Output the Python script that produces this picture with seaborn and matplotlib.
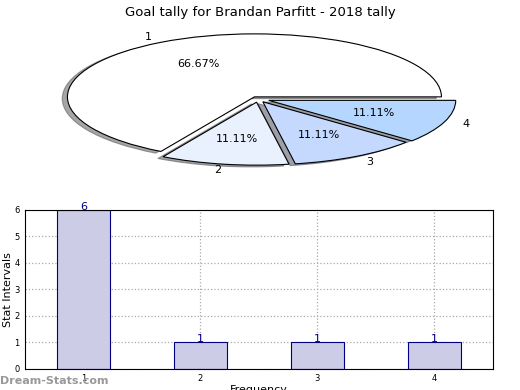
import numpy as np
import pandas as pd
import matplotlib
matplotlib.use('Agg')
import matplotlib.pyplot as plt
import seaborn as sns

# data
categories = ['1', '2', '3', '4']
counts = [6, 1, 1, 1]
pie_colors = ['#ffffff', '#eaf1fe', '#c5d9fe', '#b4d6ff']
title = 'Goal tally for Brandan Parfitt - 2018 tally'

sns.set_theme(style='white')
plt.rcParams['font.family'] = ['DejaVu Sans']
plt.rcParams['text.color'] = 'black'
plt.rcParams['axes.labelcolor'] = 'black'
plt.rcParams['xtick.color'] = 'black'
plt.rcParams['ytick.color'] = 'black'

fig = plt.figure(figsize=(5.2, 3.9), dpi=100)

# pie (squashed into an ellipse)
ax_pie = fig.add_axes([0.029, 0.536, 0.935, 0.42])
ax_pie.pie(counts, labels=categories, colors=pie_colors, autopct='%.2f%%',
           explode=[0.04, 0.05, 0.05, 0.06], shadow=True, startangle=0,
           wedgeprops=dict(edgecolor='black', linewidth=0.8),
           textprops=dict(fontsize=8, color='black'))
ax_pie.set_aspect('auto')
ax_pie.set_xlim(-1.3, 1.3)
ax_pie.set_ylim(-1.3, 1.3)
ax_pie.axis('off')
fig.text(0.5, 0.985, title, ha='center', va='top', fontsize=9.5)

# bars
df = pd.DataFrame({'cat': categories, 'count': counts})
ax = fig.add_axes([0.048, 0.054, 0.9, 0.408])
sns.barplot(data=df, x='cat', y='count', color='#cccce6', width=0.45,
            edgecolor='#000080', linewidth=0.8, saturation=1, ax=ax)
ax.set_xlim(-0.5, 3.5)
ax.set_ylim(0, 6)
ax.set_yticks(range(0, 7))
ax.tick_params(labelsize=6, length=2, pad=2)
ax.grid(True, linestyle=':', color='#aaaaaa', linewidth=0.9, zorder=3)
for sp in ax.spines.values():
    sp.set_color('black')
    sp.set_linewidth(0.8)
    sp.set_zorder(5)
for i, v in enumerate(counts):
    ax.text(i, v + 0.12, str(v), ha='center', va='center', color='#000080',
            fontsize=8)
ax.set_xlabel('Frequency', fontsize=8, labelpad=1)
ax.set_ylabel('Stat Intervals', fontsize=8, labelpad=1)

fig.text(0.0, 0.01, 'Dream-Stats.com', ha='left', va='bottom', fontsize=8,
         color='#999999', fontweight='bold')

fig.savefig('out.png', dpi=100)
